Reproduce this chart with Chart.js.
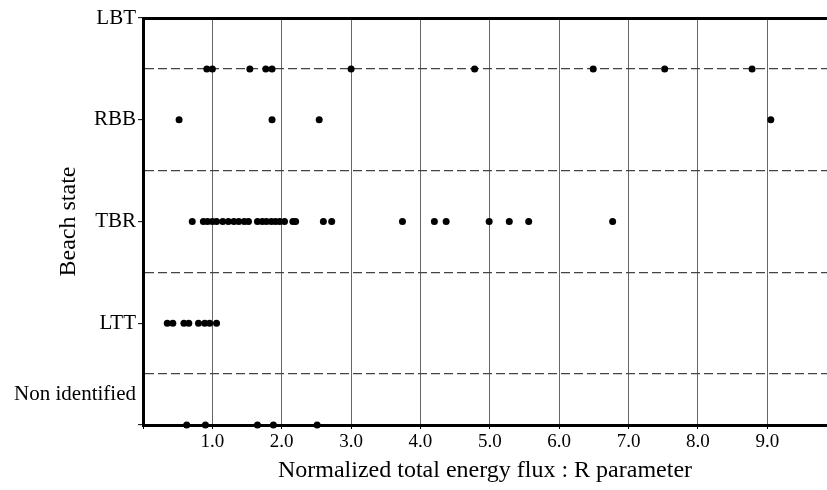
<!DOCTYPE html>
<html>
<head>
<meta charset="utf-8">
<script src="https://cdn.jsdelivr.net/npm/chart.js@4/dist/chart.umd.min.js"></script>
<style>
  html, body { margin: 0; padding: 0; background: #fff; overflow: hidden; }
  #wrap { width: 831px; height: 490px; }
</style>
</head>
<body>
<div id="wrap"><canvas id="beachChart"></canvas></div>
<script>
// beach state categories and where they sit on the y axis
const stateNames = ['Non identified', 'LTT', 'TBR', 'RBB', 'LBT'];
const stateLabelPos = [0.6, 2, 4, 6, 8];
const yTickValues = [0, 0.6, 1, 2, 3, 4, 5, 6, 7, 8];
const xTickValues = [0, 1, 2, 3, 4, 5, 6, 7, 8, 9];

// R parameter values
const lbtR = [0.92, 1.0, 1.54, 1.77, 1.86, 3.0, 4.78, 6.49, 7.52, 8.78];
const rbbR = [0.52, 1.86, 2.54, 9.05];
const tbrR = [0.71, 0.87, 0.93, 1.0, 1.06, 1.15, 1.23, 1.31, 1.38, 1.46, 1.52,
  1.65, 1.72, 1.78, 1.85, 1.91, 1.97, 2.04, 2.16, 2.2, 2.6, 2.72, 3.74, 4.2,
  4.37, 4.99, 5.28, 5.56, 6.77];
const lttR = [0.35, 0.43, 0.59, 0.66, 0.8, 0.89, 0.96, 1.06];
const nonIdR = [0.63, 0.9, 1.65, 1.88, 2.51];

// level each group is plotted at
const lbtLevel = 7;
const rbbLevel = 6;
const tbrLevel = 4;
const lttLevel = 2;
const nonIdLevel = 0;

const serif = '"Liberation Serif", "Times New Roman", serif';

function toPoints(values, level) {
  return values.map(v => ({ x: v, y: level }));
}

function makeSet(label, values, level) {
  return {
    label,
    data: toPoints(values, level),
    pointRadius: 3.5,
    pointBackgroundColor: '#000',
    pointBorderColor: '#000',
    pointBorderWidth: 0,
    showLine: false,
    clip: false,
  };
}

const ctx = document.getElementById('beachChart');

new Chart(ctx, {
  type: 'scatter',
  data: {
    datasets: [
      makeSet('LBT', lbtR, lbtLevel),
      makeSet('RBB', rbbR, rbbLevel),
      makeSet('TBR', tbrR, tbrLevel),
      makeSet('LTT', lttR, lttLevel),
      makeSet('Non identified', nonIdR, nonIdLevel),
    ],
  },
  options: {
    responsive: true,
    maintainAspectRatio: false,
    animation: false,
    layout: { padding: 0 },
    plugins: {
      legend: { display: false },
      tooltip: { enabled: false },
    },
    scales: {
      x: {
        type: 'linear',
        position: 'bottom',
        min: 0,
        max: 9.86,
        afterBuildTicks: s => { s.ticks = xTickValues.map(v => ({ value: v })); },
        afterFit: s => { s.height = 65; },
        border: { display: true, color: '#000', width: 3 },
        grid: {
          color: c => (c.tick && c.tick.value > 0 ? '#666' : 'rgba(0,0,0,0)'),
          lineWidth: 1,
          drawTicks: true,
          tickLength: 4,
          tickColor: '#000',
          tickWidth: 1,
        },
        ticks: {
          color: '#000',
          font: { family: serif, size: 19 },
          padding: 2,
          maxRotation: 0,
          callback: v => (v === 0 ? '' : v.toFixed(1)),
        },
        title: {
          display: true,
          text: 'Normalized total energy flux : R parameter',
          color: '#000',
          font: { family: serif, size: 24 },
          padding: { top: 0, bottom: 5 },
        },
      },
      xTop: {
        type: 'linear',
        position: 'top',
        min: 0,
        max: 9.86,
        afterFit: s => { s.height = 18; },
        border: { display: true, color: '#000', width: 3 },
        grid: { display: false, drawTicks: false },
        ticks: { display: false },
      },
      y: {
        type: 'linear',
        min: 0,
        max: 8,
        afterBuildTicks: s => { s.ticks = yTickValues.map(v => ({ value: v })); },
        afterFit: s => { s.width = 143; },
        border: { display: true, color: '#000', width: 3, dash: [9, 4] },
        grid: {
          color: c => (c.tick && c.tick.value % 2 === 1 ? '#444' : 'rgba(0,0,0,0)'),
          lineWidth: 1.3,
          drawTicks: true,
          tickLength: 5,
          tickColor: c => (c.tick && c.tick.value % 2 === 0 ? '#000' : 'rgba(0,0,0,0)'),
          tickWidth: 1,
          tickBorderDash: [],
        },
        ticks: {
          color: '#000',
          font: { family: serif, size: 21 },
          padding: 2,
          autoSkip: false,
          callback: v => {
            const i = stateLabelPos.indexOf(v);
            return i >= 0 ? stateNames[i] : '';
          },
        },
        title: {
          display: true,
          text: 'Beach state',
          color: '#000',
          font: { family: serif, size: 24 },
          padding: { top: 54, bottom: 0 },
        },
      },
    },
  },
});
</script>
</body>
</html>
